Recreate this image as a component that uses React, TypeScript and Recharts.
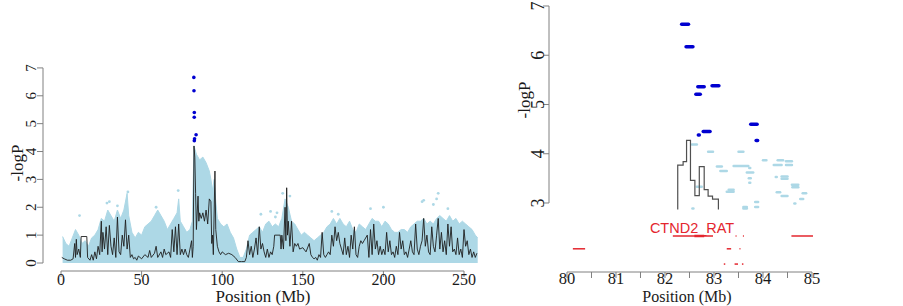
import {
    ComposedChart, XAxis, YAxis, Line, Area, Scatter, ReferenceLine, ReferenceDot
} from 'recharts';

const SERIF = '"Liberation Serif", "Times New Roman", serif';
const SANS = '"Liberation Sans", Arial, sans-serif';
const AXIS_COLOR = '#808080';
const TEXT_COLOR = '#1a1a1a';
const LIGHT_BLUE = '#add8e6';
const HIT_BLUE = '#0000d0';
const GENE_RED = '#e4262e';

// ---------- genome-wide panel ----------
const WIDE_TICKS = [0, 50, 100, 150, 200, 250];
const WIDE_Y_TICKS = [0, 1, 2, 3, 4, 5, 6, 7];

// upper edge of the dense light-blue SNP cloud [Mb, -logP]
const CLOUD_TOP: [number, number][] = [
    [1, 0.95], [3, 0.7], [5, 0.6], [7, 0.9], [9, 1.2], [11, 1.0], [13, 0.7], [15, 0.8], [17, 0.6], [19, 0.9],
    [21, 1.0], [23, 1.2], [25, 1.6], [27, 1.5], [29, 1.9], [31, 1.7], [33, 1.5], [35, 1.9], [37, 1.6], [39, 1.9],
    [41, 2.5], [42, 1.7], [44, 1.1], [46, 0.9], [48, 1.1], [50, 1.0], [52, 1.3], [54, 1.4], [56, 1.5], [58, 1.7],
    [60, 1.9], [62, 1.7], [64, 1.5], [66, 1.2], [68, 1.4], [70, 1.6], [72, 1.8], [73, 2.3], [74, 1.5], [76, 1.3],
    [78, 1.1], [80, 1.2], [81.5, 1.5], [82.5, 4.2], [84, 3.9], [86, 3.7], [88, 3.8], [90, 3.6], [92, 3.3], [93, 3.0],
    [94, 2.6], [95, 3.0], [96, 2.2], [97, 1.6], [99, 1.4], [101, 1.3], [103, 1.4], [105, 1.1], [107, 0.9], [109, 0.5],
    [111, 0.2], [113, 0.2], [115, 0.5], [117, 1.0], [119, 1.1], [121, 1.2], [123, 1.3], [125, 1.1], [127, 1.4], [129, 1.5],
    [131, 1.3], [133, 1.4], [135, 1.3], [137, 1.6], [139, 2.3], [141, 2.0], [143, 1.5], [145, 1.4], [147, 1.2], [149, 1.0],
    [151, 1.1], [153, 1.0], [155, 0.9], [157, 0.8], [159, 0.9], [161, 1.0], [163, 1.1], [165, 1.3], [167, 1.4], [169, 1.6],
    [171, 1.4], [173, 1.6], [175, 1.4], [177, 1.3], [179, 1.5], [181, 1.2], [183, 1.1], [185, 1.4], [187, 1.3], [189, 1.2],
    [191, 1.4], [193, 1.6], [195, 1.5], [197, 1.5], [199, 1.3], [201, 1.5], [203, 1.4], [205, 1.2], [207, 1.1], [209, 1.1],
    [211, 1.2], [213, 1.2], [215, 1.1], [217, 1.3], [219, 1.4], [221, 1.5], [223, 1.5], [225, 1.6], [227, 1.4], [229, 1.5],
    [231, 1.4], [233, 1.6], [235, 1.7], [237, 1.6], [239, 1.5], [241, 1.7], [243, 1.5], [245, 1.6], [247, 1.4], [249, 1.5],
    [251, 1.4], [253, 1.3], [255, 1.2], [257, 1.0], [258.5, 0.9],
];

// isolated light-blue SNPs above the cloud
const CLOUD_OUTLIERS: [number, number][] = [
    [11.5, 1.7], [28.5, 2.15], [30, 2.2], [35, 2.05], [41.5, 2.55], [59, 2.0], [72.7, 2.6], [124, 1.75],
    [130, 1.85], [133, 1.65], [134, 1.8], [137.5, 2.5], [142, 2.4], [168, 1.85], [172, 1.75], [192, 1.95],
    [200, 2.0], [224, 2.2], [225, 2.25], [231, 2.1], [233, 2.3], [234, 2.5], [240, 1.95],
];

// black haplotype trace
const WIDE_TRACE: [number, number][] = [
    [0.5, 0.2], [2, 0.15], [4, 0.1], [6, 0.1], [7.5, 0.15], [8.5, 0.7], [9, 0.2], [9.5, 0.85], [10, 0.3], [11, 0.5],
    [12, 0.2], [12.5, 0.95], [16, 0.95], [16.5, 0.2], [18, 0.1], [19, 0.3], [20, 0.1], [21, 0.4], [22, 0.15], [23, 0.6],
    [24, 0.3], [25, 1.5], [25.5, 0.4], [26, 1.1], [27, 0.5], [28, 1.3], [29, 0.3], [30, 1.35], [31, 0.6], [32, 0.3],
    [33, 0.9], [34, 0.2], [35, 1.65], [36, 0.4], [37, 0.3], [38, 1.0], [39, 0.6], [40, 1.55], [41, 0.5], [42, 1.0],
    [43, 0.2], [44, 0.3], [45, 0.15], [46, 0.2], [47, 0.1], [48, 0.25], [50, 0.15], [52, 0.3], [54, 0.2], [55, 0.45],
    [56, 0.2], [58, 0.35], [59, 0.6], [60, 0.2], [62, 0.4], [63, 0.2], [64, 0.5], [65, 0.3], [67, 0.4], [68, 0.2],
    [69, 1.2], [70, 0.4], [71, 1.3], [72, 0.3], [73, 1.4], [74, 0.3], [75, 0.5], [76, 0.3], [77, 0.5], [78, 0.3],
    [79, 0.2], [80, 0.5], [81, 0.8], [81.5, 0.2], [82, 0.6], [82.5, 4.2], [83, 3.8], [83.5, 2.5], [84, 1.2], [85, 2.4],
    [85.5, 1.5], [86, 1.8], [87, 1.6], [88, 1.8], [89, 1.5], [90, 1.9], [91, 1.4], [92, 2.3], [93, 2.2], [93.5, 0.7],
    [94, 1.0], [94.5, 0.3], [95.5, 3.3], [96, 1.2], [97, 0.6], [98, 0.4], [99, 0.3], [100, 0.4], [102, 0.3], [104, 0.35],
    [106, 0.3], [108, 0.2], [110, 0.05], [112, 0.05], [114, 0.05], [115, 0.2], [116, 0.8], [117, 0.3], [118, 0.6], [119, 0.2],
    [120, 0.5], [121, 0.9], [122, 0.3], [123, 1.3], [124, 0.5], [125, 0.7], [126, 0.4], [127, 0.2], [128, 0.5], [129, 0.2],
    [130, 0.4], [131, 0.3], [132, 0.6], [132.5, 1.0], [136, 1.0], [136.5, 0.5], [137, 1.0], [138, 0.5], [139, 2.0], [139.5, 0.8],
    [140, 2.7], [140.5, 1.0], [141, 1.5], [142, 0.6], [143, 1.5], [144, 0.4], [145, 0.7], [146, 0.6], [147, 0.7], [148, 0.5],
    [150, 0.55], [152, 0.4], [154, 0.7], [155, 0.3], [156, 0.2], [157, 0.15], [158, 0.2], [159, 0.1], [160, 0.3], [161, 0.2],
    [162, 1.1], [163, 0.3], [164, 0.2], [165, 0.3], [166, 0.4], [167, 0.3], [168, 1.0], [169, 0.6], [170, 1.3], [171, 0.8],
    [172, 1.1], [173, 0.7], [174, 0.5], [175, 0.3], [176, 0.9], [177, 0.3], [178, 0.6], [179, 0.2], [180, 1.0], [181, 0.5],
    [182, 1.3], [183, 0.3], [184, 0.2], [185, 0.6], [186, 0.8], [187, 0.7], [188, 0.8], [190, 1.0], [191, 0.2], [192, 1.2],
    [193, 0.3], [194, 1.4], [195, 0.5], [196, 0.8], [197, 0.3], [198, 0.6], [199, 0.3], [200, 0.5], [201, 0.3], [202, 1.1],
    [203, 0.4], [204, 0.8], [205, 0.3], [206, 0.4], [207, 0.2], [208, 0.6], [209, 0.3], [210, 1.1], [211, 0.5], [212, 0.8],
    [213, 0.3], [214, 0.4], [215, 0.2], [216, 0.5], [217, 0.8], [218, 0.4], [219, 0.3], [220, 1.4], [221, 0.5], [222, 0.3],
    [223, 0.6], [224, 0.8], [225, 1.6], [226, 0.6], [227, 1.0], [228, 0.4], [229, 0.3], [230, 1.3], [231, 0.6], [232, 0.4],
    [233, 1.0], [234, 1.6], [235, 0.5], [236, 1.1], [237, 0.4], [238, 0.8], [239, 0.3], [240, 1.4], [241, 0.6], [242, 1.3],
    [243, 0.4], [244, 0.5], [245, 0.3], [246, 0.9], [247, 0.3], [248, 0.5], [249, 0.2], [250, 1.2], [251, 0.6], [252, 0.8],
    [253, 0.3], [254, 0.5], [255, 0.2], [256, 0.4], [257, 0.2], [258, 0.35],
];

// significant SNPs (dark blue)
const WIDE_HITS: [number, number][] = [
    [82.4, 6.66], [82.5, 6.18], [82.7, 5.4], [82.65, 5.23], [83.8, 4.6], [82.85, 4.46], [82.7, 4.39],
];

// ---------- zoomed region panel ----------
const ZOOM_TICKS = [80, 80.5, 81, 81.5, 82, 82.5, 83, 83.5, 84, 84.5, 85];
const ZOOM_Y_TICKS = [3, 4, 5, 6, 7];

// haplotype trace (step) [Mb, -logP]
const ZOOM_TRACE: [number, number][] = [
    [82.26, 2.87], [82.26, 3.77], [82.37, 3.84], [82.44, 4.27], [82.52, 3.46], [82.61, 3.15],
    [82.7, 3.74], [82.8, 3.27], [82.88, 3.14], [82.97, 3.08], [83.09, 2.87],
];

// SNP runs [start Mb, end Mb, -logP]
const ZOOM_HITS: [number, number, number][] = [
    [82.34, 82.48, 6.63], [82.43, 82.57, 6.17], [82.67, 82.8, 5.36], [82.63, 82.72, 5.21], [82.96, 83.1, 5.38],
    [82.78, 82.92, 4.45], [82.68, 82.7, 4.38], [83.75, 83.88, 4.6], [83.86, 83.89, 4.27],
];
const ZOOM_SNPS: [number, number, number][] = [
    [82.55, 82.65, 4.19], [82.88, 82.98, 4.04], [83.5, 83.6, 4.04], [83.06, 83.16, 3.74], [83.13, 83.26, 3.65],
    [83.4, 83.7, 3.75], [83.67, 83.8, 3.62], [83.72, 83.74, 3.71], [83.71, 83.75, 3.5], [83.72, 83.74, 3.41],
    [84.0, 84.07, 3.87], [84.22, 84.38, 3.77], [84.3, 84.41, 3.87], [84.47, 84.59, 3.85], [84.47, 84.59, 3.77],
    [84.26, 84.28, 3.53], [84.38, 84.5, 3.54], [84.38, 84.5, 3.49], [84.59, 84.72, 3.37], [84.6, 84.72, 3.32],
    [84.81, 84.88, 3.2], [84.76, 84.82, 3.08], [84.64, 84.66, 2.99], [84.28, 84.35, 3.22], [84.38, 84.5, 3.14],
    [83.26, 83.4, 3.23], [83.3, 83.4, 3.27], [82.65, 82.75, 3.33], [82.56, 82.58, 2.89], [83.6, 83.67, 2.92],
    [83.6, 83.67, 2.89], [83.84, 83.9, 3.02], [83.84, 83.9, 2.92],
];

// gene track: [start Mb, end Mb, row level]
const GENES: [number, number, number][] = [
    [82.16, 82.98, 2.33], [83.44, 83.46, 2.33], [83.59, 83.61, 2.33], [84.58, 85.02, 2.33],
    [80.12, 80.37, 2.07], [83.26, 83.35, 2.07], [83.52, 83.54, 2.07],
    [83.2, 83.23, 1.76], [83.42, 83.49, 1.76], [83.57, 83.6, 1.76],
];
const GENE_EXONS: [number, number, number][] = [[82.6, 82.8, 2.33]];
const GENE_NAME = 'CTND2_RAT';
const GENE_NAME_AT: [number, number] = [81.59, 2.5];

const WIDE_X: [number, number] = [-11.17, 269.85];
const WIDE_Y: [number, number] = [-0.287, 7.32];
const ZOOM_X: [number, number] = [79.633, 85.204];
const ZOOM_Y: [number, number] = [1.599, 7.081];

function XTick({ x, y, payload, size, lift }: any) {
    if (!Number.isInteger(payload.value)) return null;
    return (
        <text x={x} y={y + lift} textAnchor="middle" fontSize={size} fontFamily={SERIF} fill={TEXT_COLOR}>
            {payload.value}
        </text>
    );
}

function YTick({ x, y, payload, size, shift }: any) {
    const bx = x + shift;
    return (
        <text x={bx} y={y} transform={`rotate(-90 ${bx} ${y})`} textAnchor="middle" fontSize={size} fontFamily={SERIF} fill={TEXT_COLOR}>
            {payload.value}
        </text>
    );
}

// axis title at fixed chart coordinates (tx, ty = baseline anchor)
function Title({ tx, ty, size, turn, text }: any) {
    return (
        <text x={tx} y={ty} transform={turn ? `rotate(-90 ${tx} ${ty})` : undefined} textAnchor="middle" fontSize={size} fontFamily={SERIF} fill={TEXT_COLOR}>
            {text}
        </text>
    );
}

export default function App() {
    const cloudData = CLOUD_TOP.map(([x, y]) => ({ x, y }));
    const outlierData = CLOUD_OUTLIERS.map(([x, y]) => ({ x, y }));
    const traceData = WIDE_TRACE.map(([x, y]) => ({ x, y }));
    const hitData = WIDE_HITS.map(([x, y]) => ({ x, y }));
    const zoomTraceData = ZOOM_TRACE.map(([x, y]) => ({ x, y }));

    return (
        <div style={{ position: 'absolute', left: 0, top: 0, width: 903, height: 306, background: '#fff' }}>
            {/* genome-wide scan */}
            <div style={{ position: 'absolute', left: 0, top: 0 }}>
                <ComposedChart width={500} height={306} margin={{ top: 59, right: 4, bottom: 0, left: 0 }}>
                    <XAxis
                        type="number"
                        dataKey="x"
                        domain={WIDE_X}
                        allowDataOverflow
                        ticks={WIDE_TICKS}
                        interval={0}
                        height={35}
                        axisLine={false}
                        tickLine={{ stroke: AXIS_COLOR }}
                        tickSize={6}
                        tick={<XTick size={16} lift={6} />}
                        label={<Title tx={263} ty={302} size={17} text="Position (Mb)" />}
                    />
                    <YAxis
                        type="number"
                        domain={WIDE_Y}
                        allowDataOverflow
                        ticks={WIDE_Y_TICKS}
                        interval={0}
                        width={43}
                        axisLine={false}
                        tickLine={{ stroke: AXIS_COLOR }}
                        tickSize={6}
                        tick={<YTick size={15} shift={1} />}
                        label={<Title tx={23} ty={163} size={17} turn text="-logP" />}
                    />
                    <Area data={cloudData} dataKey="y" type="linear" fill={LIGHT_BLUE} fillOpacity={1} stroke={LIGHT_BLUE} strokeWidth={1} dot={false} activeDot={false} isAnimationActive={false} />
                    <Scatter data={outlierData} dataKey="y" fill={LIGHT_BLUE} shape={(p: any) => <circle cx={p.cx} cy={p.cy} r={1.4} fill={LIGHT_BLUE} />} isAnimationActive={false} />
                    <Line data={traceData} dataKey="y" type="linear" stroke="#1e1e1e" strokeWidth={0.9} dot={false} activeDot={false} isAnimationActive={false} />
                    <Scatter data={hitData} dataKey="y" fill={HIT_BLUE} shape={(p: any) => <circle cx={p.cx} cy={p.cy} r={1.8} fill={HIT_BLUE} />} isAnimationActive={false} />
                    <ReferenceLine segment={[{ x: 0, y: WIDE_Y[0] }, { x: 250, y: WIDE_Y[0] }]} stroke={AXIS_COLOR} />
                    <ReferenceLine segment={[{ x: WIDE_X[0], y: 0 }, { x: WIDE_X[0], y: 7 }]} stroke={AXIS_COLOR} />
                </ComposedChart>
            </div>

            {/* zoomed region */}
            <div style={{ position: 'absolute', left: 500, top: 0 }}>
                <ComposedChart width={403} height={306} margin={{ top: 2, right: 81, bottom: 0, left: 0 }}>
                    <XAxis
                        type="number"
                        dataKey="x"
                        domain={ZOOM_X}
                        allowDataOverflow
                        ticks={ZOOM_TICKS}
                        interval={0}
                        height={34}
                        axisLine={false}
                        tickLine={{ stroke: AXIS_COLOR }}
                        tickSize={6}
                        tick={<XTick size={16.5} lift={4} />}
                        label={<Title tx={187} ty={302} size={16} text="Position (Mb)" />}
                    />
                    <YAxis
                        type="number"
                        domain={ZOOM_Y}
                        allowDataOverflow
                        ticks={ZOOM_Y_TICKS}
                        interval={0}
                        width={49}
                        axisLine={false}
                        tickLine={{ stroke: AXIS_COLOR }}
                        tickSize={6}
                        tick={<YTick size={18} shift={3} />}
                        label={<Title tx={30} ty={100} size={17} turn text="-logP" />}
                    />
                    {ZOOM_SNPS.map(([s, e, v], i) => (
                        <ReferenceLine key={`s${i}`} segment={[{ x: s, y: v }, { x: e, y: v }]} stroke={LIGHT_BLUE} strokeWidth={2.5} strokeLinecap="round" />
                    ))}
                    {ZOOM_HITS.map(([s, e, v], i) => (
                        <ReferenceLine key={`h${i}`} segment={[{ x: s, y: v }, { x: e, y: v }]} stroke={HIT_BLUE} strokeWidth={3.5} strokeLinecap="round" />
                    ))}
                    <Line data={zoomTraceData} dataKey="y" type="stepAfter" stroke="#505050" strokeWidth={1.2} dot={false} activeDot={false} isAnimationActive={false} />
                    {GENES.map(([s, e, v], i) => (
                        <ReferenceLine key={`g${i}`} segment={[{ x: s, y: v }, { x: e, y: v }]} stroke={GENE_RED} strokeWidth={1.5} />
                    ))}
                    {GENE_EXONS.map(([s, e, v], i) => (
                        <ReferenceLine key={`x${i}`} segment={[{ x: s, y: v }, { x: e, y: v }]} stroke={GENE_RED} strokeWidth={2.5} />
                    ))}
                    <ReferenceDot
                        x={GENE_NAME_AT[0]}
                        y={GENE_NAME_AT[1]}
                        r={0}
                        fill="none"
                        stroke="none"
                        label={{ value: GENE_NAME, position: 'right', offset: 5, fill: GENE_RED, fontSize: 14.5, fontFamily: SANS }}
                    />
                    <ReferenceLine segment={[{ x: 80, y: ZOOM_Y[0] }, { x: 85, y: ZOOM_Y[0] }]} stroke={AXIS_COLOR} />
                    <ReferenceLine segment={[{ x: ZOOM_X[0], y: 3 }, { x: ZOOM_X[0], y: 7 }]} stroke={AXIS_COLOR} />
                </ComposedChart>
            </div>
        </div>
    );
}
